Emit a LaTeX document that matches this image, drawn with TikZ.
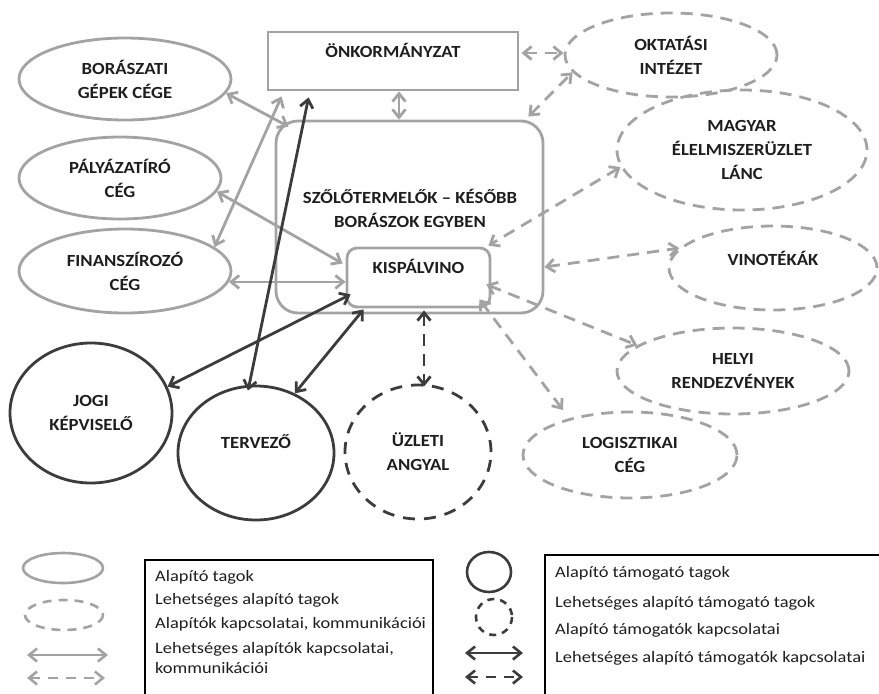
\documentclass[tikz,border=0pt]{standalone}
\usepackage{fontspec}
\setmainfont{Carlito}[FakeStretch=1.15]
\newfontfamily\lblfont{Carlito}[FakeStretch=1.1]
\usepackage{xcolor}
\usetikzlibrary{arrows.meta, positioning, calc, shapes.geometric}
\definecolor{lgray}{HTML}{A3A3A3}
\definecolor{dgray}{HTML}{3C3C3C}
\definecolor{txt}{HTML}{1E1E1E}

\begin{document}
\begin{tikzpicture}[x=1pt, y=-1pt,
  >={Straight Barb[length=8pt,width=13pt]},
  lbl/.style={font=\lblfont\bfseries\fontsize{17}{24}\selectfont, text=txt, align=center, inner sep=0pt},
  member/.style={lbl, ellipse, draw=lgray, line width=2.8pt},
  maybemember/.style={member, dash pattern=on 12pt off 8pt},
  supporter/.style={lbl, ellipse, draw=dgray, line width=2.8pt},
  maybesupporter/.style={supporter, dash pattern=on 12pt off 9pt},
  framebox/.style={lbl, rectangle, draw=lgray, line width=2.8pt},
  link/.style={draw=lgray, line width=2.8pt, <->},
  maybelink/.style={link, dash pattern=on 12pt off 8pt},
  slink/.style={draw=dgray, line width=2.8pt, <->},
  maybeslink/.style={slink, dash pattern=on 12pt off 8pt},
  legtext/.style={font=\fontsize{16}{20}\selectfont, text=txt, anchor=west, inner sep=0pt, align=left}]
  \useasboundingbox (0,0) rectangle (879,694);
  \clip (0,0) rectangle (879,694);

  % founding members
  \node[member, minimum width=212pt, minimum height=82pt] (bor) at (125,79) {BORÁSZATI\\GÉPEK CÉGE};
  \node[member, minimum width=202pt, minimum height=82pt] (pal) at (120,178) {PÁLYÁZATÍRÓ\\CÉG};
  \node[member, minimum width=212pt, minimum height=84pt] (fin) at (125,271) {FINANSZÍROZÓ\\CÉG};
  \node[framebox, minimum width=250pt, minimum height=58pt, text height=12pt, text depth=19pt] (onk) at (393,61) {ÖNKORMÁNYZAT};
  \node[framebox, rounded corners=22pt, minimum width=267pt, minimum height=192pt] (szolo) at (409.5,217) {};
  \node[lbl] (szolotxt) at (410,208) {SZŐLŐTERMELŐK – KÉSŐBB\\BORÁSZOK EGYBEN};
  \node[framebox, rounded corners=10pt, minimum width=143pt, minimum height=59pt, text height=12pt, text depth=20pt] (kisp) at (418.5,277.5) {KISPÁLVINO};

  % possible founding members
  \node[maybemember, minimum width=212pt, minimum height=84pt] (okt) at (671,55) {OKTATÁSI\\INTÉZET};
  \node[maybemember, minimum width=250pt, minimum height=120pt] (mag) at (742,150) {MAGYAR\\ÉLELMISZERÜZLET\\LÁNC};
  \node[maybemember, minimum width=208pt, minimum height=84pt, text height=12pt, text depth=17pt] (vin) at (773,268) {VINOTÉKÁK};
  \node[maybemember, minimum width=232pt, minimum height=86pt] (hely) at (733,371) {HELYI\\RENDEZVÉNYEK};
  \node[maybemember, minimum width=214pt, minimum height=86pt] (log) at (630,455) {LOGISZTIKAI\\CÉG};

  % supporters
  \node[supporter, minimum width=162pt, minimum height=140pt] (jogi) at (91,413) {JOGI\\KÉPVISELŐ};
  \node[supporter, minimum width=156pt, minimum height=134pt, text height=12pt, text depth=21pt] (ter) at (256,453) {TERVEZŐ};
  \node[maybesupporter, minimum width=146pt, minimum height=134pt] (uzl) at (418,452) {ÜZLETI\\ANGYAL};

  % connections
  \draw[link] (bor.-8) -- ($(szolo.north west)+(14,7)$);
  \draw[link] ($(onk.south)+(6,0)$) -- ($(szolo.north)+(-10.5,0)$);
  \draw[link] (fin.15) -- ($(onk.south west)+(15,5)$);
  \draw[link] (pal.-8) -- ($(kisp.west)+(-3,-14)$);
  \draw[link] (fin.-6) -- (fin.-6 -| kisp.west);
  \draw[maybelink] ($(onk.east)+(2,-8)$) -- ($(okt.west)+(0,-2)$);
  \draw[maybelink] ($(szolo.north east)+(-16,-3)$) -- (okt.190);
  \draw[maybelink] (mag.188) -- ($(kisp.north east)+(-3,-1)$);
  \draw[maybelink] ($(szolo.east)+(0,50)$) -- (vin.168);
  \draw[maybelink] ($(kisp.east)+(-5,7)$) -- (hely.165);
  \draw[maybelink] ($(kisp.south east)+(-12,-9)$) -- ($(log.center)+(-67,-45)$);
  \draw[slink] ($(ter.north)+(-8,6)$) -- ($(onk.south west)+(42,6)$);
  \draw[slink] (jogi.19) -- ($(kisp.south west)+(5,-14)$);
  \draw[slink] (ter.57) -- ($(kisp.south west)+(18,1)$);
  \draw[maybeslink] ($(kisp.south)+(5.5,2)$) -- ($(uzl.north)+(6,3)$);

  % legend
  \draw[lgray, line width=2.6pt] (63,568) ellipse [x radius=40, y radius=15];
  \draw[lgray, line width=2.6pt, dash pattern=on 9pt off 7pt] (64,615) ellipse [x radius=39, y radius=15];
  \draw[lgray, line width=2.6pt, <->] (27,655) -- (108,655);
  \draw[lgray, line width=2.6pt, <->, dash pattern=on 10pt off 8pt] (27,678) -- (105,678);
  \draw[dgray, line width=2.6pt] (489,572) ellipse [x radius=22, y radius=20];
  \draw[dgray, line width=2.6pt, dash pattern=on 7pt off 6pt] (494,617) ellipse [x radius=18, y radius=18];
  \draw[dgray, line width=2.6pt, <->] (465,653) -- (523,653);
  \draw[dgray, line width=2.6pt, <->, dash pattern=on 10pt off 8pt] (465,677) -- (523,677);
  \draw[line width=1.4pt] (145,700) |- (433,560) -- (433,700);
  \draw[line width=1.4pt] (545,700) |- (885,555);
  \node[legtext] (l1) at (155,577) {Alapító tagok};
  \node[legtext] (l2) at (155,600) {Lehetséges alapító tagok};
  \node[legtext] (l3) at (155,624) {Alapítók kapcsolatai, kommunikációi};
  \node[legtext] (l4) at (155,658) {Lehetséges alapítók kapcsolatai,\\kommunikációi};
  \node[legtext] (r1) at (555,573) {Alapító támogató tagok};
  \node[legtext] (r2) at (555,603) {Lehetséges alapító támogató tagok};
  \node[legtext] (r3) at (555,630) {Alapító támogatók kapcsolatai};
  \node[legtext] (r4) at (555,658) {Lehetséges alapító támogatók kapcsolatai};
\end{tikzpicture}
\end{document}
